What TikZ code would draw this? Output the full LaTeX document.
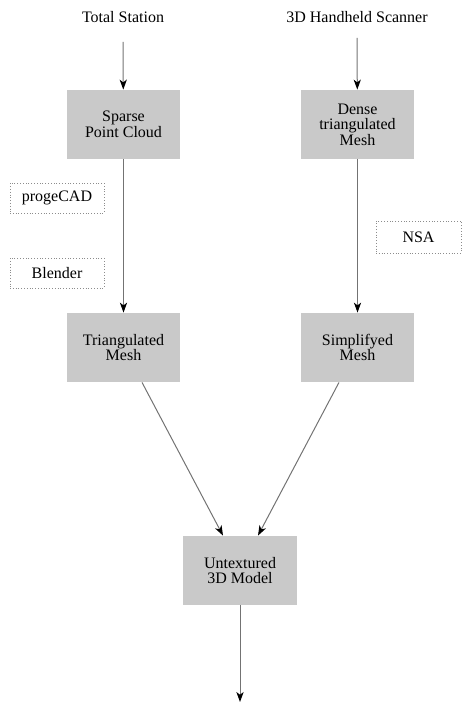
\documentclass[tikz,border=0pt]{standalone}
\usepackage{fontspec}
\setmainfont{Liberation Serif}
\usetikzlibrary{arrows.meta}

\begin{document}
\begin{tikzpicture}[x=0.5pt, y=-0.5pt, font=\fontsize{8}{7.8}\selectfont]

\tikzstyle{step box} = [rectangle, fill=black!21, minimum width=56.5pt, minimum height=34.5pt, inner sep=0pt, align=center]
\tikzstyle{tool} = [rectangle, draw=black!45, densely dotted, line width=0.4pt, minimum width=47pt, minimum height=15pt, inner sep=0pt]
\tikzstyle{source} = [inner sep=0pt]
\tikzstyle{flow} = [draw=black!55, line width=0.5pt, -{Stealth[black, length=5pt, width=3.6pt, inset=1.4pt]}]

\useasboundingbox (0, 0) rectangle (467, 704);

\node[source] (station) at (123, 17) {Total Station};
\node[source] (scanner) at (357, 17) {3D Handheld Scanner};
\coordinate (station out) at (123, 42);
\coordinate (scanner out) at (357, 38);

\node[step box] (sparse) at (123.5, 124.5) {Sparse\\Point Cloud};
\node[step box] (dense) at (357.5, 124.5) {Dense\\triangulated\\Mesh};

\node[tool] (progecad) at (57, 198) {progeCAD};
\node[tool] (blender) at (57, 273) {Blender};
\node[tool, minimum width=42.5pt, minimum height=16pt] (nsa) at (418.5, 237) {NSA};

\node[step box] (trimesh) at (123.5, 347.5) {Triangulated\\Mesh};
\node[step box] (simpmesh) at (357.5, 347.5) {Simplifyed\\Mesh};

\node[step box, minimum width=57pt] (model) at (240, 570.5) {Untextured\\3D Model};
\coordinate (model out) at (240, 702);

\draw[flow] (station out) -- (sparse);
\draw[flow] (scanner out) -- (dense);
\draw[flow] (sparse) -- (trimesh);
\draw[flow] (dense) -- (simpmesh);
\draw[flow] ([xshift=9.25pt]trimesh.south) -- ([xshift=-8.5pt]model.north);
\draw[flow] ([xshift=-9.25pt]simpmesh.south) -- ([xshift=9pt]model.north);
\draw[flow] (model) -- (model out);

\end{tikzpicture}
\end{document}
